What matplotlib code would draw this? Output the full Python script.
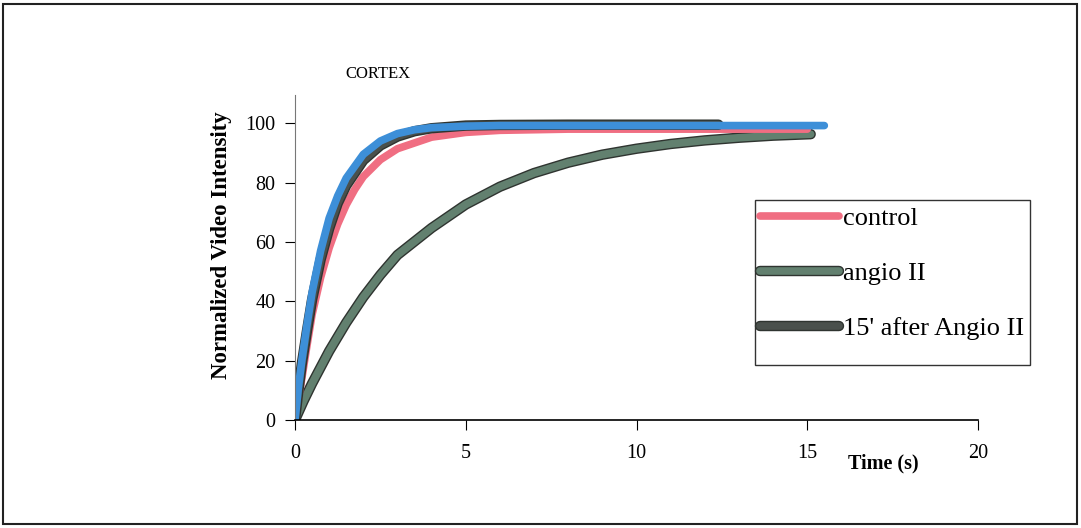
import matplotlib
matplotlib.use('Agg')
import matplotlib.pyplot as plt #pyplot module for the chart
import matplotlib.patheffects as pe #used for the dark edge round each thick line
from matplotlib.patches import Rectangle

#############################################################################################################

# fast curve drawn in blue (no legend entry)
t_blue = [0, 0.1, 0.2, 0.35, 0.5, 0.75, 1, 1.25, 1.5, 2, 2.5, 3, 3.5, 4, 5, 6, 8, 10, 12, 14, 15.5]
y_blue = [0, 11, 20, 32, 43, 57, 68, 75.5, 81.5, 89.5, 94, 96.5, 97.8, 98.5, 99, 99.2, 99.2, 99.2, 99.2, 99.2, 99.2]

# control
t_control = [0, 0.1, 0.2, 0.35, 0.5, 0.75, 1, 1.25, 1.5, 1.75, 2, 2.5, 3, 4, 5, 6, 8, 10, 12, 14, 15]
y_control = [0, 7, 14, 25, 35.5, 48, 58, 66, 72.5, 77.7, 82, 87.7, 91.4, 95.3, 96.9, 97.6, 98, 98, 98, 98, 98]

# angio II (slow curve)
t_angio = [0, 0.25, 0.5, 1, 1.5, 2, 2.5, 3, 4, 5, 6, 7, 8, 9, 10, 11, 12, 13, 14, 15.1]
y_angio = [0, 6.4, 12.3, 23.2, 32.8, 41.4, 48.9, 55.6, 64.7, 72.6, 78.6, 83.2, 86.7, 89.4, 91.4, 93, 94.2, 95.1, 95.8, 96.3]

# 15' after Angio II
t_after = [0, 0.1, 0.2, 0.35, 0.5, 0.75, 1, 1.25, 1.5, 2, 2.5, 3, 3.5, 4, 5, 6, 8, 10, 12.4]
y_after = [0, 10, 19, 30, 40.5, 54, 64.5, 73, 79, 87.5, 92.5, 95.5, 97.3, 98.3, 99.2, 99.4, 99.5, 99.5, 99.5]

x_ticks = [0, 5, 10, 15, 20]
y_ticks = [0, 20, 40, 60, 80, 100]

#############################################################################################################

plt.rcParams['font.family'] = ['Liberation Serif', 'DejaVu Serif'] #times-like font

fig = plt.figure(figsize=(10.81, 5.28), dpi=100)
ax = fig.add_axes([295/1081, 1-420/528, (978-295)/1081, (420-95)/528])

def edge(): #dark outline round the thick line, like the old spreadsheet style
    return [pe.Stroke(linewidth=7.5, foreground='#2f3430'), pe.Normal()]

lw = 5.5
ax.plot(t_angio, y_angio, color='#62806f', lw=lw, solid_capstyle='round', path_effects=edge(), label='angio II')
ax.plot(t_control, y_control, color='#f06e82', lw=lw, solid_capstyle='round', label='control')
ax.plot(t_after, y_after, color='#4a504c', lw=lw, solid_capstyle='round', path_effects=edge(), label="15' after Angio II")
ax.plot(t_blue, y_blue, color='#3d8fd8', lw=lw, solid_capstyle='round')

ax.set_xlim(0, 20)
ax.set_ylim(0, 109.5)
ax.set_xticks(x_ticks)
ax.set_yticks(y_ticks)
ax.tick_params(axis='both', labelsize=14.5, length=7, width=0.8, direction='out')
ax.tick_params(axis='x', pad=10)
ax.tick_params(axis='y', pad=7)
ax.spines['top'].set_visible(False)
ax.spines['right'].set_visible(False)
ax.spines['left'].set_color('#777777')
ax.spines['bottom'].set_linewidth(1.2)

ax.set_ylabel('Normalized Video Intensity', fontsize=16.5, fontweight='bold')
ax.yaxis.set_label_coords(-0.092, 0.538)
fig.text(883/1081, 1-463/528, 'Time (s)', fontsize=14.5, fontweight='bold', ha='center', va='center')
fig.text(378/1081, 1-74/528, 'CORTEX', fontsize=12, ha='center', va='center')

# legend in same order as the picture, frame drawn by hand as the box is taller than the entries
h, l = ax.get_legend_handles_labels()
order = [1, 0, 2]
leg = ax.legend([h[i] for i in order], [l[i] for i in order], loc='upper left',
                bbox_to_anchor=(755/1081, 1-201/528), bbox_transform=fig.transFigure,
                fontsize=19, handlelength=3.0, handletextpad=0.15, labelspacing=1.2,
                borderpad=0.2, borderaxespad=0, frameon=False)
leg.set_zorder(6)
box = Rectangle((755/1081, 1-365/528), 275/1081, 165/528, transform=fig.transFigure,
                facecolor='white', edgecolor='#333333', lw=1, zorder=5, clip_on=False)
ax.add_patch(box)

# border round the whole figure
fig.add_artist(Rectangle((3/1081, 4/528), 1074/1081, 520/528, transform=fig.transFigure,
                         fill=False, edgecolor='#222222', lw=1.5))

plt.savefig('out.png', dpi=100) #save the plot
